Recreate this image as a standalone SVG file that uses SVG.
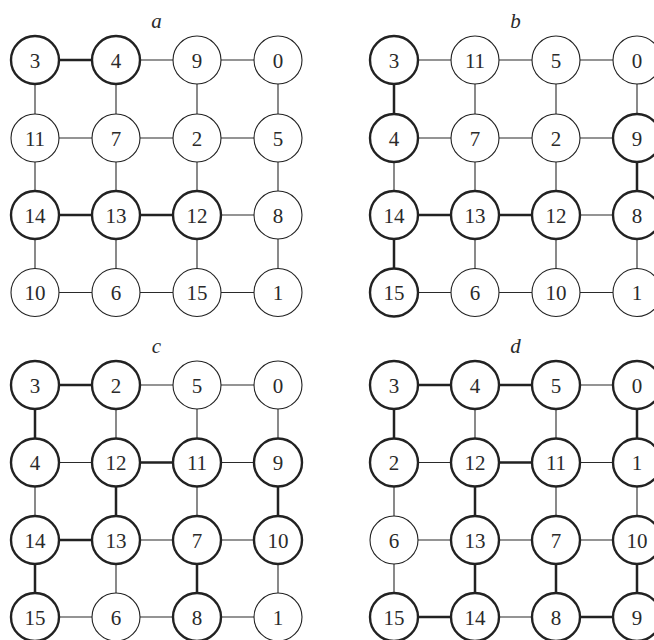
<svg xmlns="http://www.w3.org/2000/svg" width="654" height="640" viewBox="0 0 654 640">
<style>
.e{fill:none;stroke:#2a2a2a;stroke-width:1.1}
.eb{fill:none;stroke:#222;stroke-width:2.5}
.n circle{fill:#fff;stroke:#222;stroke-width:1.1}
.n.b circle{stroke-width:2.4}
.n text,.lbl{font-family:"Liberation Serif","Times New Roman",serif;font-size:21px;fill:#2a2a2a;text-anchor:middle}
.lbl{font-style:italic}
</style>
<rect width="654" height="640" fill="#fff"/>
<g id="labels">
<text class="lbl" x="156.5" y="28">a</text>
<text class="lbl" x="515.5" y="28">b</text>
<text class="lbl" x="156.5" y="353">c</text>
<text class="lbl" x="515.5" y="353">d</text>
</g>
<g id="connectors">
<path class="e" d="M116 60H278 M35 138H278 M197 215H278 M35 292.5H278 M35 60V292.5 M116 60V292.5 M197 60V292.5 M278 60V292.5"/>
<path class="eb" d="M35 60H116 M35 215H197"/>
<path class="e" d="M394 60H637 M394 138H637 M556 215H637 M394 292.5H637 M394 138V215 M475 60V292.5 M556 60V292.5 M637 60V138 M637 215V292.5"/>
<path class="eb" d="M394 215H556 M394 60V138 M394 215V292.5 M637 138V215"/>
<path class="e" d="M116 385H278 M35 462.5H116 M197 462.5H278 M116 540H278 M35 617H278 M35 462.5V540 M116 385V462.5 M116 540V617 M197 385V540 M278 385V462.5 M278 540V617"/>
<path class="eb" d="M35 385H116 M116 462.5H197 M35 540H116 M35 385V462.5 M116 462.5V540 M278 462.5V540 M35 540V617 M197 540V617"/>
<path class="e" d="M556 385H637 M394 462.5H475 M556 462.5H637 M394 540H637 M475 617H556 M394 462.5V617 M475 385V462.5 M556 385V540 M637 462.5V540"/>
<path class="eb" d="M394 385H556 M475 462.5H556 M394 617H475 M556 617H637 M394 385V462.5 M637 385V462.5 M475 462.5V617 M637 540V617 M556 540V617"/>
</g>
<!-- grid a -->
<g id="a3" class="n b"><circle cx="35" cy="60" r="24"/><text x="35" y="67.5">3</text></g>
<g id="a4" class="n b"><circle cx="116" cy="60" r="24"/><text x="116" y="67.5">4</text></g>
<g id="a9" class="n"><circle cx="197" cy="60" r="24"/><text x="197" y="67.5">9</text></g>
<g id="a0" class="n"><circle cx="278" cy="60" r="24"/><text x="278" y="67.5">0</text></g>
<g id="a11" class="n"><circle cx="35" cy="138" r="24"/><text x="35" y="145.5">11</text></g>
<g id="a7" class="n"><circle cx="116" cy="138" r="24"/><text x="116" y="145.5">7</text></g>
<g id="a2" class="n"><circle cx="197" cy="138" r="24"/><text x="197" y="145.5">2</text></g>
<g id="a5" class="n"><circle cx="278" cy="138" r="24"/><text x="278" y="145.5">5</text></g>
<g id="a14" class="n b"><circle cx="35" cy="215" r="24"/><text x="35" y="222.5">14</text></g>
<g id="a13" class="n b"><circle cx="116" cy="215" r="24"/><text x="116" y="222.5">13</text></g>
<g id="a12" class="n b"><circle cx="197" cy="215" r="24"/><text x="197" y="222.5">12</text></g>
<g id="a8" class="n"><circle cx="278" cy="215" r="24"/><text x="278" y="222.5">8</text></g>
<g id="a10" class="n"><circle cx="35" cy="292.5" r="24"/><text x="35" y="300">10</text></g>
<g id="a6" class="n"><circle cx="116" cy="292.5" r="24"/><text x="116" y="300">6</text></g>
<g id="a15" class="n"><circle cx="197" cy="292.5" r="24"/><text x="197" y="300">15</text></g>
<g id="a1" class="n"><circle cx="278" cy="292.5" r="24"/><text x="278" y="300">1</text></g>
<!-- grid b -->
<g id="b3" class="n b"><circle cx="394" cy="60" r="24"/><text x="394" y="67.5">3</text></g>
<g id="b11" class="n"><circle cx="475" cy="60" r="24"/><text x="475" y="67.5">11</text></g>
<g id="b5" class="n"><circle cx="556" cy="60" r="24"/><text x="556" y="67.5">5</text></g>
<g id="b0" class="n"><circle cx="637" cy="60" r="24"/><text x="637" y="67.5">0</text></g>
<g id="b4" class="n b"><circle cx="394" cy="138" r="24"/><text x="394" y="145.5">4</text></g>
<g id="b7" class="n"><circle cx="475" cy="138" r="24"/><text x="475" y="145.5">7</text></g>
<g id="b2" class="n"><circle cx="556" cy="138" r="24"/><text x="556" y="145.5">2</text></g>
<g id="b9" class="n b"><circle cx="637" cy="138" r="24"/><text x="637" y="145.5">9</text></g>
<g id="b14" class="n b"><circle cx="394" cy="215" r="24"/><text x="394" y="222.5">14</text></g>
<g id="b13" class="n b"><circle cx="475" cy="215" r="24"/><text x="475" y="222.5">13</text></g>
<g id="b12" class="n b"><circle cx="556" cy="215" r="24"/><text x="556" y="222.5">12</text></g>
<g id="b8" class="n b"><circle cx="637" cy="215" r="24"/><text x="637" y="222.5">8</text></g>
<g id="b15" class="n b"><circle cx="394" cy="292.5" r="24"/><text x="394" y="300">15</text></g>
<g id="b6" class="n"><circle cx="475" cy="292.5" r="24"/><text x="475" y="300">6</text></g>
<g id="b10" class="n"><circle cx="556" cy="292.5" r="24"/><text x="556" y="300">10</text></g>
<g id="b1" class="n"><circle cx="637" cy="292.5" r="24"/><text x="637" y="300">1</text></g>
<!-- grid c -->
<g id="c3" class="n b"><circle cx="35" cy="385" r="24"/><text x="35" y="392.5">3</text></g>
<g id="c2" class="n b"><circle cx="116" cy="385" r="24"/><text x="116" y="392.5">2</text></g>
<g id="c5" class="n"><circle cx="197" cy="385" r="24"/><text x="197" y="392.5">5</text></g>
<g id="c0" class="n"><circle cx="278" cy="385" r="24"/><text x="278" y="392.5">0</text></g>
<g id="c4" class="n b"><circle cx="35" cy="462.5" r="24"/><text x="35" y="470">4</text></g>
<g id="c12" class="n b"><circle cx="116" cy="462.5" r="24"/><text x="116" y="470">12</text></g>
<g id="c11" class="n b"><circle cx="197" cy="462.5" r="24"/><text x="197" y="470">11</text></g>
<g id="c9" class="n b"><circle cx="278" cy="462.5" r="24"/><text x="278" y="470">9</text></g>
<g id="c14" class="n b"><circle cx="35" cy="540" r="24"/><text x="35" y="547.5">14</text></g>
<g id="c13" class="n b"><circle cx="116" cy="540" r="24"/><text x="116" y="547.5">13</text></g>
<g id="c7" class="n b"><circle cx="197" cy="540" r="24"/><text x="197" y="547.5">7</text></g>
<g id="c10" class="n b"><circle cx="278" cy="540" r="24"/><text x="278" y="547.5">10</text></g>
<g id="c15" class="n b"><circle cx="35" cy="617" r="24"/><text x="35" y="624.5">15</text></g>
<g id="c6" class="n"><circle cx="116" cy="617" r="24"/><text x="116" y="624.5">6</text></g>
<g id="c8" class="n b"><circle cx="197" cy="617" r="24"/><text x="197" y="624.5">8</text></g>
<g id="c1" class="n"><circle cx="278" cy="617" r="24"/><text x="278" y="624.5">1</text></g>
<!-- grid d -->
<g id="d3" class="n b"><circle cx="394" cy="385" r="24"/><text x="394" y="392.5">3</text></g>
<g id="d4" class="n b"><circle cx="475" cy="385" r="24"/><text x="475" y="392.5">4</text></g>
<g id="d5" class="n b"><circle cx="556" cy="385" r="24"/><text x="556" y="392.5">5</text></g>
<g id="d0" class="n b"><circle cx="637" cy="385" r="24"/><text x="637" y="392.5">0</text></g>
<g id="d2" class="n b"><circle cx="394" cy="462.5" r="24"/><text x="394" y="470">2</text></g>
<g id="d12" class="n b"><circle cx="475" cy="462.5" r="24"/><text x="475" y="470">12</text></g>
<g id="d11" class="n b"><circle cx="556" cy="462.5" r="24"/><text x="556" y="470">11</text></g>
<g id="d1" class="n b"><circle cx="637" cy="462.5" r="24"/><text x="637" y="470">1</text></g>
<g id="d6" class="n"><circle cx="394" cy="540" r="24"/><text x="394" y="547.5">6</text></g>
<g id="d13" class="n b"><circle cx="475" cy="540" r="24"/><text x="475" y="547.5">13</text></g>
<g id="d7" class="n b"><circle cx="556" cy="540" r="24"/><text x="556" y="547.5">7</text></g>
<g id="d10" class="n b"><circle cx="637" cy="540" r="24"/><text x="637" y="547.5">10</text></g>
<g id="d15" class="n b"><circle cx="394" cy="617" r="24"/><text x="394" y="624.5">15</text></g>
<g id="d14" class="n b"><circle cx="475" cy="617" r="24"/><text x="475" y="624.5">14</text></g>
<g id="d8" class="n b"><circle cx="556" cy="617" r="24"/><text x="556" y="624.5">8</text></g>
<g id="d9" class="n b"><circle cx="637" cy="617" r="24"/><text x="637" y="624.5">9</text></g>
</svg>
